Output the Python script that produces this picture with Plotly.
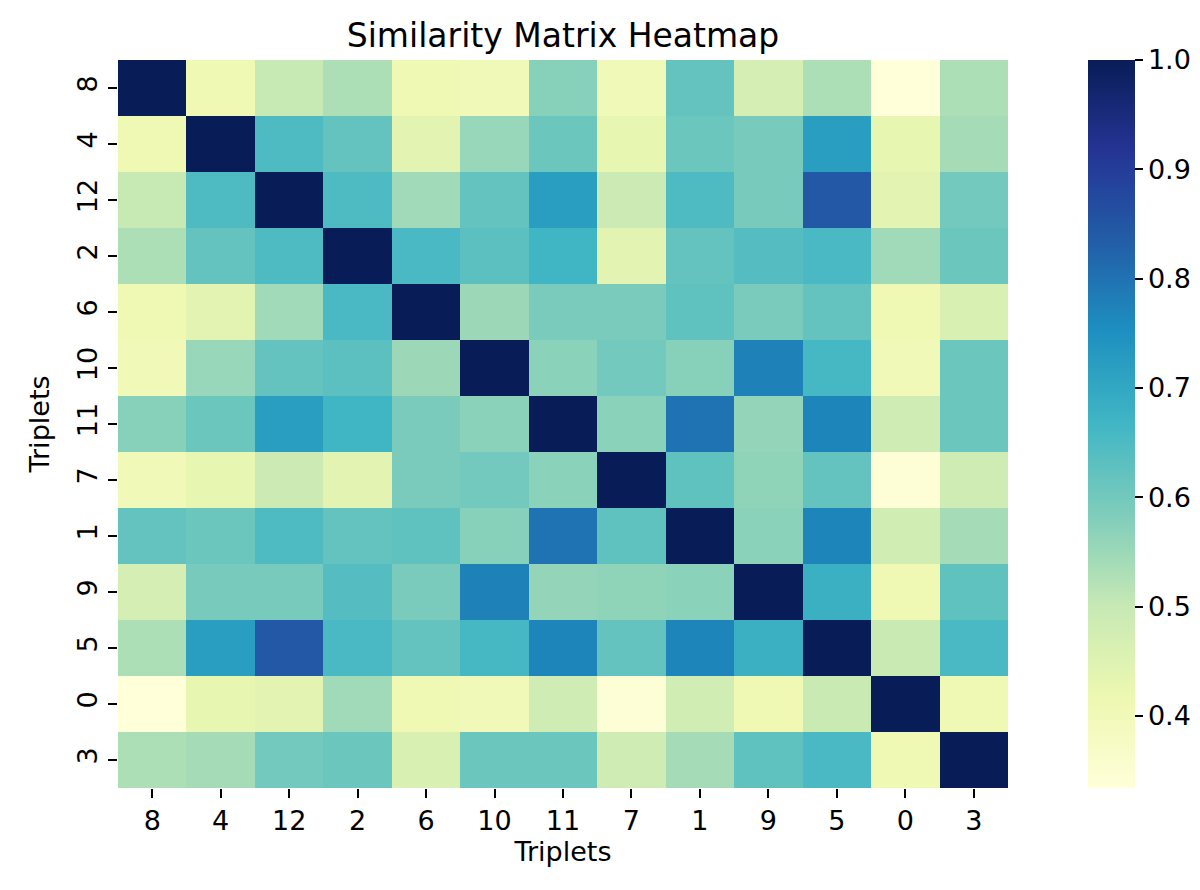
import plotly.graph_objects as go

# triplet ids in the order they appear on both axes
labels = ["8", "4", "12", "2", "6", "10", "11", "7", "1", "9", "5", "0", "3"]

# one list per row (top row first)
row_8 = [1.0, 0.41, 0.50, 0.53, 0.41, 0.40, 0.575, 0.40, 0.62, 0.47, 0.53, 0.334, 0.53]
row_4 = [0.41, 1.0, 0.65, 0.62, 0.44, 0.555, 0.61, 0.43, 0.61, 0.595, 0.72, 0.43, 0.54]
row_12 = [0.50, 0.65, 1.0, 0.65, 0.545, 0.62, 0.72, 0.49, 0.65, 0.595, 0.845, 0.44, 0.60]
row_2 = [0.53, 0.62, 0.65, 1.0, 0.655, 0.63, 0.67, 0.44, 0.62, 0.64, 0.655, 0.545, 0.61]
row_6 = [0.41, 0.44, 0.545, 0.655, 1.0, 0.55, 0.59, 0.59, 0.625, 0.59, 0.62, 0.41, 0.46]
row_10 = [0.40, 0.555, 0.62, 0.63, 0.55, 1.0, 0.57, 0.60, 0.575, 0.775, 0.66, 0.40, 0.61]
row_11 = [0.575, 0.61, 0.72, 0.67, 0.59, 0.57, 1.0, 0.57, 0.80, 0.56, 0.77, 0.485, 0.61]
row_7 = [0.40, 0.43, 0.49, 0.44, 0.59, 0.60, 0.57, 1.0, 0.625, 0.565, 0.62, 0.34, 0.485]
row_1 = [0.62, 0.61, 0.65, 0.62, 0.625, 0.575, 0.80, 0.625, 1.0, 0.57, 0.77, 0.48, 0.54]
row_9 = [0.47, 0.595, 0.595, 0.64, 0.59, 0.775, 0.56, 0.565, 0.57, 1.0, 0.68, 0.41, 0.625]
row_5 = [0.53, 0.72, 0.845, 0.655, 0.62, 0.66, 0.77, 0.62, 0.77, 0.68, 1.0, 0.495, 0.655]
row_0 = [0.334, 0.43, 0.44, 0.545, 0.41, 0.40, 0.485, 0.34, 0.48, 0.41, 0.495, 1.0, 0.41]
row_3 = [0.53, 0.54, 0.60, 0.61, 0.46, 0.61, 0.61, 0.485, 0.54, 0.625, 0.655, 0.41, 1.0]

matrix = [row_8, row_4, row_12, row_2, row_6, row_10, row_11,
          row_7, row_1, row_9, row_5, row_0, row_3]

cbar_ticks = [0.4, 0.5, 0.6, 0.7, 0.8, 0.9, 1.0]

# matplotlib's YlGnBu
ylgnbu = [
    [0.0, "#ffffd9"], [0.125, "#edf8b1"], [0.25, "#c7e9b4"],
    [0.375, "#7fcdbb"], [0.5, "#41b6c4"], [0.625, "#1d91c0"],
    [0.75, "#225ea8"], [0.875, "#253494"], [1.0, "#081d58"],
]

font = "DejaVu Sans"
fs = 27

fig = go.Figure(
    go.Heatmap(
        z=matrix,
        x=labels,
        y=labels,
        colorscale=ylgnbu,
        colorbar=dict(
            x=1.09, xanchor="left", xref="paper", xpad=0,
            y=0.5, yanchor="middle", len=1.0, lenmode="fraction", ypad=0,
            thickness=47, outlinewidth=0,
            tickvals=cbar_ticks, ticktext=[f"{t:.1f}" for t in cbar_ticks],
            ticks="outside", ticklen=8, tickwidth=1.5, tickcolor="black",
            tickfont=dict(family=font, size=fs, color="black"),
        ),
    )
)

# the page adds an 8px body margin, so the margins are 8px smaller
fig.update_layout(
    width=1200,
    height=890,
    margin=dict(l=110, r=200, t=52, b=110),
    paper_bgcolor="white",
    plot_bgcolor="white",
    font=dict(family=font, color="black"),
    title=dict(
        text="Similarity Matrix Heatmap",
        x=0.5, xref="paper", xanchor="center",
        y=1 - 27 / 890, yref="container", yanchor="middle",
        font=dict(family=font, size=33, color="black"),
    ),
)

fig.update_xaxes(
    type="category",
    title=dict(text="Triplets", font=dict(size=fs), standoff=6),
    tickfont=dict(size=fs),
    ticks="outside", ticklen=9, tickwidth=1.5, tickcolor="black",
    showgrid=False, zeroline=False, showline=False,
)
fig.update_yaxes(
    type="category",
    autorange="reversed",
    title=dict(text="Triplets", font=dict(size=fs), standoff=14),
    tickfont=dict(size=fs),
    tickangle=-90,
    ticks="outside", ticklen=9, tickwidth=1.5, tickcolor="black",
    showgrid=False, zeroline=False, showline=False,
)

fig.write_html("out.html")
